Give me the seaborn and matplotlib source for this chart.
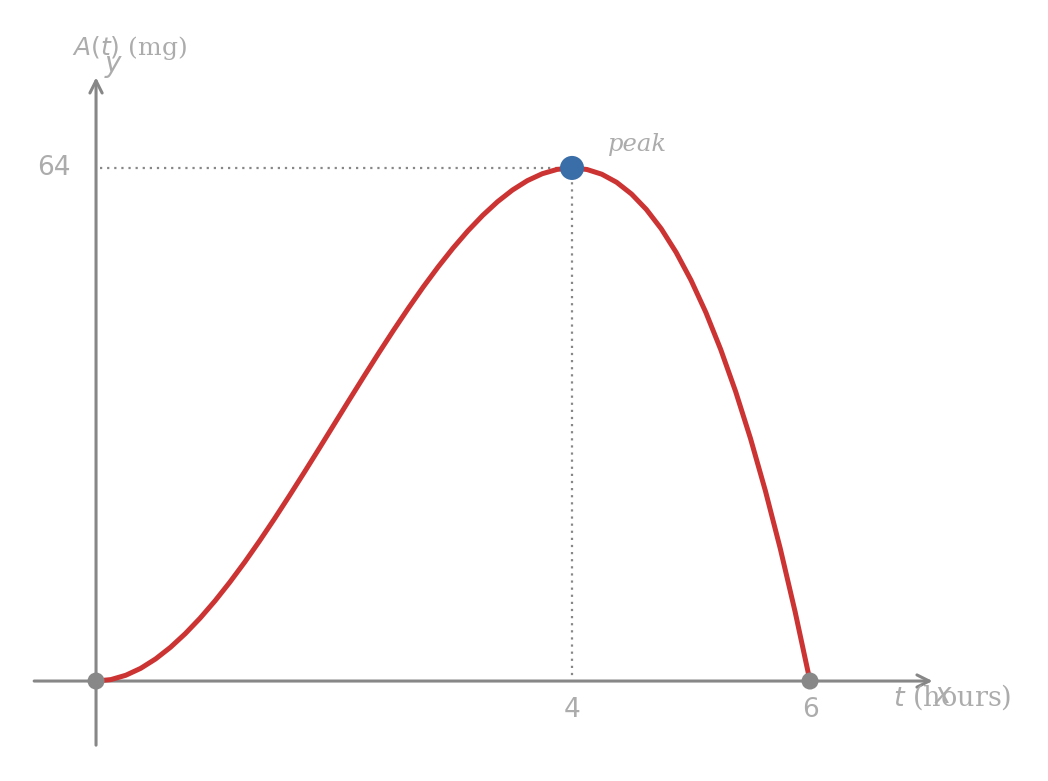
import numpy as np
import pandas as pd
import matplotlib
matplotlib.use("Agg")
import matplotlib.pyplot as plt
import seaborn as sns

# values (drug amount in mg over time in hours)
t_hours = [0, 0.125, 0.25, 0.375, 0.5, 0.625, 0.75, 0.875, 1, 1.125, 1.25,
           1.375, 1.5, 1.625, 1.75, 1.875, 2, 2.125, 2.25, 2.375, 2.5, 2.625,
           2.75, 2.875, 3, 3.125, 3.25, 3.375, 3.5, 3.625, 3.75, 3.875, 4,
           4.125, 4.25, 4.375, 4.5, 4.625, 4.75, 4.875, 5, 5.125, 5.25, 5.375,
           5.5, 5.625, 5.75, 5.875, 6]
amount_mg = [0, 0.18, 0.72, 1.58, 2.75, 4.2, 5.91, 7.85, 10, 12.34, 14.84,
             17.49, 20.25, 23.11, 26.03, 29.0, 32, 35.0, 37.97, 40.9, 43.75,
             46.51, 49.16, 51.66, 54, 56.15, 58.09, 59.8, 61.25, 62.42, 63.28,
             63.82, 64, 63.81, 63.22, 62.21, 60.75, 58.82, 56.41, 53.47, 50,
             45.97, 41.34, 36.11, 30.25, 23.73, 16.53, 8.63, 0]
zero_t = [0, 6]
zero_a = [0, 0]
peak_t = [4]
peak_a = [64]
tick_x = [4, 6]
tick_y = [64]

df = pd.DataFrame({"t": t_hours, "A": amount_mg})

sns.set_style("white")
fig = plt.figure(figsize=(10.48, 7.81), dpi=100)
ax = fig.add_axes([0, 0, 1, 1])
ax.set_xlim(-0.807, 8.0)
ax.set_ylim(-12.47, 84.95)
ax.axis("off")

axis_col = "#878787"
text_col = "#acacac"

# axes with arrows
ax.annotate("", xy=(7.03, 0), xytext=(-0.52, 0),
            arrowprops=dict(arrowstyle="->", color=axis_col, lw=2.2,
                            mutation_scale=22, shrinkA=0, shrinkB=0))
ax.annotate("", xy=(0, 75.3), xytext=(0, -8.0),
            arrowprops=dict(arrowstyle="->", color=axis_col, lw=2.2,
                            mutation_scale=22, shrinkA=0, shrinkB=0))

# guide lines to the peak
ax.plot([0.03, 4], [64, 64], color=axis_col, lw=1.6, ls=(0, (1, 2.2)))
ax.plot([4, 4], [64, 0], color=axis_col, lw=1.6, ls=(0, (1, 2.2)))

sns.lineplot(data=df, x="t", y="A", color="#cc3333", lw=3.6, ax=ax,
             legend=False, zorder=4, solid_joinstyle="round")
sns.scatterplot(x=zero_t, y=zero_a, color="#888888", s=150, ax=ax,
                edgecolor="none", zorder=5)
sns.scatterplot(x=peak_t, y=peak_a, color="#3a6ea8", s=300, ax=ax,
                edgecolor="none", zorder=6)

# tick labels
for x in tick_x:
    ax.text(x, -3.6, str(x), color=text_col, fontsize=19, ha="center", va="center")
for y in tick_y:
    ax.text(-0.21, y, str(y), color=text_col, fontsize=19, ha="right", va="center")

ax.text(4.3, 66.9, "peak", color=text_col, fontsize=17.5, style="italic",
        family="DejaVu Serif", ha="left", va="center")

# axis titles
ax.text(-0.2, 79.0, r"$A(t)$ (mg)", color=text_col, fontsize=18,
        family="DejaVu Serif", ha="left", va="center")
ax.text(0.15, 76.7, r"$y$", color=text_col, fontsize=20, ha="center", va="center")
ax.text(6.7, -2.0, r"$t$ (hours)", color=text_col, fontsize=19.5,
        family="DejaVu Serif", ha="left", va="center")
ax.text(7.12, -1.8, r"$x$", color=text_col, fontsize=20, ha="center", va="center")

fig.savefig("out.png", dpi=100)
